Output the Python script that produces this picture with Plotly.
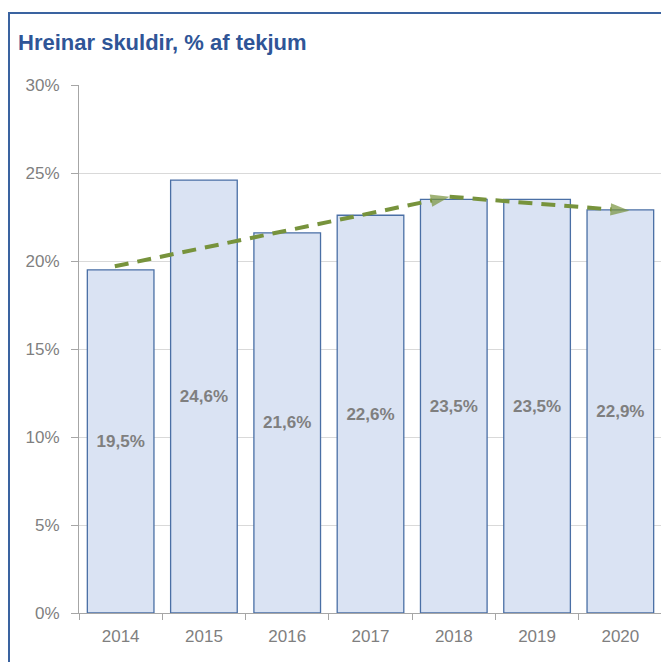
import plotly.graph_objects as go

years = ["2014", "2015", "2016", "2017", "2018", "2019", "2020"]
debt_ratio = [19.5, 24.6, 21.6, 22.6, 23.5, 23.5, 22.9]

# dashed trend arrow (x in category index units, y in %)
trend_x = [-0.07, 3.95, 6.11]
trend_y = [19.7, 23.65, 22.85]

y_ticks = [0, 5, 10, 15, 20, 25, 30]
y_tick_labels = [f"{v}%" for v in y_ticks]

pos = list(range(len(years)))
boundaries = [p - 0.5 for p in pos] + [pos[-1] + 0.5]

GRAY = "#7f7f7f"
BLUE = "#2f5597"
GREEN = "#77933c"

W, H = 661, 654
L, R, T, B = 71, 7, 77, 49
PW, PH = W - L - R, H - T - B

fig = go.Figure()
fig.add_trace(go.Bar(
    x=pos, y=debt_ratio, width=0.8,
    marker=dict(color="#dae3f3", line=dict(color="#4a6fa5", width=1.3)),
    texttemplate="%{y:.1f}%", textposition="inside", insidetextanchor="middle",
    textfont=dict(family="Liberation Sans", size=17, color=GRAY, weight="bold"),
    textangle=0, hoverinfo="skip", showlegend=False,
))
fig.add_trace(go.Scatter(
    x=trend_x, y=trend_y, mode="lines+markers",
    line=dict(color=GREEN, width=4, dash="14px,9px"),
    marker=dict(symbol="arrow", angleref="previous", size=[0, 20, 20],
                color=GREEN, line=dict(width=0)),
    hoverinfo="skip", showlegend=False,
))

fig.update_layout(
    width=W, height=H,
    margin=dict(l=L, r=R, t=T, b=B, autoexpand=False),
    paper_bgcolor="white", plot_bgcolor="white",
    separators=", ",
    title=dict(text="<b>Hreinar skuldir, % af tekjum</b>",
               font=dict(family="Liberation Sans", size=22, color=BLUE),
               x=10 / W, xanchor="left", xref="container",
               y=1 - 34 / H, yanchor="middle", yref="container"),
    xaxis=dict(range=[-0.5, 6.5], tickmode="array", tickvals=pos, ticktext=years,
               ticks="", showgrid=False, zeroline=False,
               showline=True, linecolor="#a6a6a6", linewidth=1,
               tickfont=dict(family="Liberation Sans", size=17, color=GRAY),
               ticklabelstandoff=8,
               minor=dict(tickmode="array", tickvals=boundaries, ticks="outside",
                          ticklen=6, tickcolor="#a6a6a6", showgrid=False)),
    yaxis=dict(range=[0, 30], tickmode="array", tickvals=y_ticks, ticktext=y_tick_labels,
               showgrid=True, gridcolor="#d9d9d9", gridwidth=1, zeroline=False,
               showline=True, linecolor="#a6a6a6", linewidth=1,
               ticks="outside", ticklen=7, tickcolor="#a6a6a6",
               tickfont=dict(family="Liberation Sans", size=17, color=GRAY),
               ticklabelstandoff=8),
    shapes=[dict(type="rect", xref="paper", yref="paper",
                 x0=(1 - L) / PW, x1=1.2, y0=-0.3, y1=(H - B - 5) / PH,
                 line=dict(color="#3a63a0", width=2), layer="below")],
)

fig.write_html("out.html")
